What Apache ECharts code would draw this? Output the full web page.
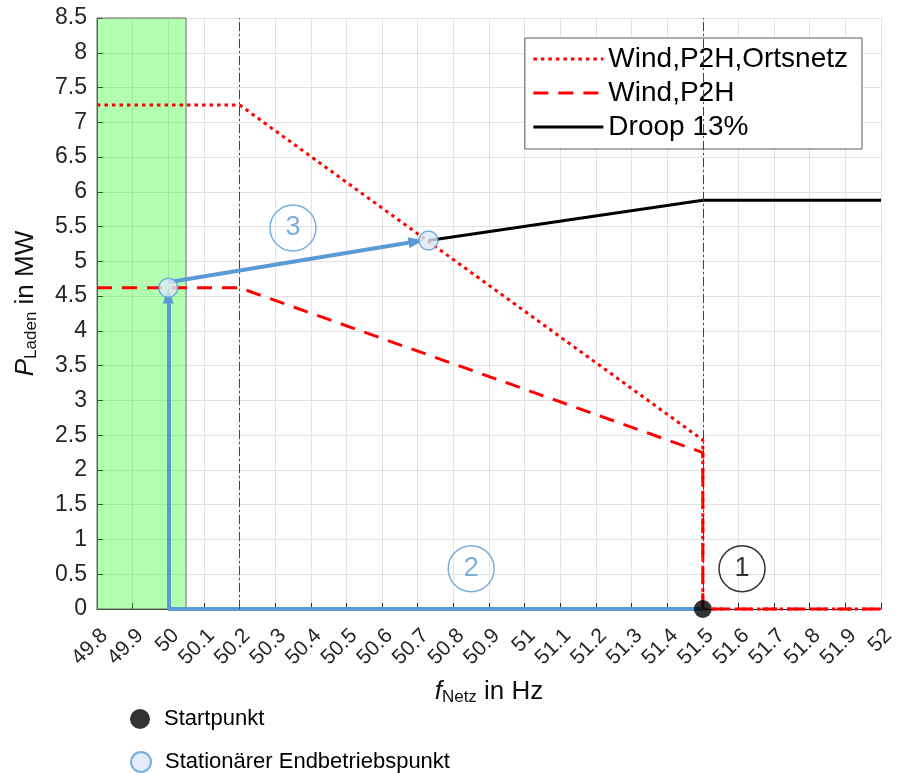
<!DOCTYPE html>
<html>
<head>
<meta charset="utf-8">
<script src="https://cdn.jsdelivr.net/npm/echarts@6/dist/echarts.min.js"></script>
<style>html,body{margin:0;padding:0;background:#fff}#c{width:899px;height:773px}</style>
</head>
<body>
<div id="c"></div>
<script>
// ---- data ----
const ortsnetzF = [49.8, 50.2, 51.5, 51.5, 52];
const ortsnetzP = [7.25, 7.25, 2.43, 0, 0];
const p2hF = [49.8, 50.2, 51.5, 51.5, 52];
const p2hP = [4.62, 4.62, 2.25, 0, 0];
const droopF = [50.73, 51.5, 52];
const droopP = [5.30, 5.88, 5.88];
const startF = [51.5];
const startP = [0];
const endF = [50.0, 50.73];
const endP = [4.62, 5.30];
const pathF = [51.5, 50.0];
const pathP = [0, 0];
const arrowUpFrom = [50.0, 0];
const arrowUpTo = [50.0, 4.50];
const arrowSlopeFrom = [50.0, 4.70];
const arrowSlopeTo = [50.695, 5.285];
const stepLabels = ['1', '2', '3'];
const stepF = [51.61, 50.85, 50.35];
const stepP = [0.58, 0.58, 5.48];
const stepColors = ['#000000', '#5b9bd5', '#5b9bd5'];
const limitLines = [50.2, 51.5];
const bandF = [49.8, 50.05];
const xMin = 49.8, xMax = 52, xStep = 0.1;
const yMin = 0, yMax = 8.5, yStep = 0.5;

const zip = (a, b) => a.map((v, i) => [v, b[i]]);
const BLUE = '#5b9bd5';
const FONT = 'Liberation Sans, Arial, sans-serif';

const chart = echarts.init(document.getElementById('c'), null, {renderer: 'canvas'});
const nameRich = {
  i: {fontSize: 26, fontStyle: 'italic', color: '#111', fontFamily: FONT},
  s: {fontSize: 17, color: '#111', fontFamily: FONT, verticalAlign: 'bottom', padding: [12, 0, 0, 0]},
  n: {fontSize: 26, color: '#111', fontFamily: FONT}
};
const markerLegend = (name, top) => ({
  data: [name], orient: 'vertical', left: 130, top: top,
  itemWidth: 20, itemHeight: 20, padding: 0,
  textStyle: {fontSize: 22, color: '#000', fontFamily: FONT, padding: [0, 0, 0, 9]}
});
const option = {
  animation: false,
  backgroundColor: '#fff',
  textStyle: {fontFamily: FONT},
  grid: {left: 97, right: 18, top: 18, bottom: 164, containLabel: false},
  xAxis: {
    type: 'value', min: xMin, max: xMax, interval: xStep,
    name: '{i|f}{s|Netz}{n| in Hz}', nameLocation: 'middle', nameGap: 68,
    nameTextStyle: {rich: nameRich},
    axisLine: {onZero: false, lineStyle: {color: '#262626', width: 1}},
    axisTick: {inside: true, length: 6, lineStyle: {color: '#262626'}},
    axisLabel: {rotate: 45, fontSize: 21, color: '#262626', margin: 16, fontFamily: FONT,
      verticalAlign: 'top',
      formatter: v => String(parseFloat(v.toFixed(1)))},
    splitLine: {show: true, lineStyle: {color: '#e3e3e3', width: 1}}
  },
  yAxis: {
    type: 'value', min: yMin, max: yMax, interval: yStep,
    name: '{i|P}{s|Laden}{n| in MW}', nameLocation: 'middle', nameGap: 57, nameRotate: 90,
    nameTextStyle: {rich: nameRich, padding: [0, 0, 0, 20]},
    axisLine: {show: true, lineStyle: {color: '#262626', width: 1}},
    axisTick: {show: true, inside: true, length: 6, lineStyle: {color: '#262626'}},
    axisLabel: {fontSize: 23, color: '#262626', margin: 10, fontFamily: FONT,
      formatter: v => String(parseFloat(v.toFixed(1)))},
    splitLine: {show: true, lineStyle: {color: '#e3e3e3', width: 1}}
  },
  legend: [
    {
      data: ['Wind,P2H,Ortsnetz', 'Wind,P2H', 'Droop 13%'],
      orient: 'vertical', right: 37, top: 38,
      itemWidth: 70, itemHeight: 14, itemGap: 4,
      padding: [6, 14, 7, 7],
      itemStyle: {opacity: 0},
      lineStyle: {width: 3},
      borderColor: '#5a5a5a', borderWidth: 1, backgroundColor: '#fff',
      textStyle: {fontSize: 28, lineHeight: 30, color: '#000', fontFamily: FONT}
    },
    markerLegend('Startpunkt', 708),
    markerLegend('Stationärer Endbetriebspunkt', 751)
  ],
  series: [
    {
      name: 'band', type: 'line', data: [], silent: true,
      markArea: {
        silent: true,
        itemStyle: {color: 'rgba(0,255,0,0.3)', borderColor: '#6e6e6e', borderWidth: 1},
        data: [[{coord: [bandF[0], yMin]}, {coord: [bandF[1], yMax]}]]
      },
      markLine: {
        silent: true, symbol: 'none', label: {show: false},
        lineStyle: {color: '#444', width: 1, type: [9, 3, 2, 3]},
        data: limitLines.map(v => ({xAxis: v}))
      }
    },
    {
      name: 'Wind,P2H,Ortsnetz', type: 'line', data: zip(ortsnetzF, ortsnetzP),
      symbol: 'none', clip: false, z: 3, color: '#ff0000',
      lineStyle: {color: '#ff0000', width: 3, type: [3.5, 4]}
    },
    {
      name: 'Wind,P2H', type: 'line', data: zip(p2hF, p2hP),
      symbol: 'none', clip: false, z: 3, color: '#ff0000',
      lineStyle: {color: '#ff0000', width: 3, type: [15, 10]}
    },
    {
      name: 'Droop 13%', type: 'line', data: zip(droopF, droopP),
      symbol: 'none', clip: false, z: 3, color: '#000',
      lineStyle: {color: '#000', width: 3}
    },
    {
      name: 'path', type: 'line', data: zip(pathF, pathP),
      symbol: 'none', clip: false, z: 4,
      lineStyle: {color: BLUE, width: 4},
      markLine: {
        silent: true, label: {show: false}, symbolSize: [11, 15],
        lineStyle: {color: BLUE, width: 4, type: 'solid'},
        data: [
          [{coord: arrowUpFrom, symbol: 'none'}, {coord: arrowUpTo, symbol: 'triangle'}],
          [{coord: arrowSlopeFrom, symbol: 'none'}, {coord: arrowSlopeTo, symbol: 'triangle'}]
        ]
      }
    },
    {
      name: 'Startpunkt', type: 'scatter', data: zip(startF, startP),
      symbol: 'circle', symbolSize: 18, clip: false, z: 6,
      itemStyle: {color: '#000'}
    },
    {
      name: 'Stationärer Endbetriebspunkt', type: 'scatter', data: zip(endF, endP),
      symbol: 'circle', symbolSize: 19, clip: false, z: 6,
      itemStyle: {color: '#dce8f5', borderColor: BLUE, borderWidth: 1.5}
    },
    {
      name: 'steps', type: 'scatter', z: 7,
      data: stepLabels.map((t, i) => ({
        value: [stepF[i], stepP[i]], name: t,
        itemStyle: {color: 'rgba(255,255,255,0)', borderColor: stepColors[i], borderWidth: 1.5},
        label: {color: stepColors[i]}
      })),
      symbol: 'circle', symbolSize: 46,
      label: {show: true, position: 'inside', formatter: p => p.name, fontSize: 27, fontFamily: FONT}
    }
  ]
};
chart.setOption(option);
</script>
</body>
</html>
